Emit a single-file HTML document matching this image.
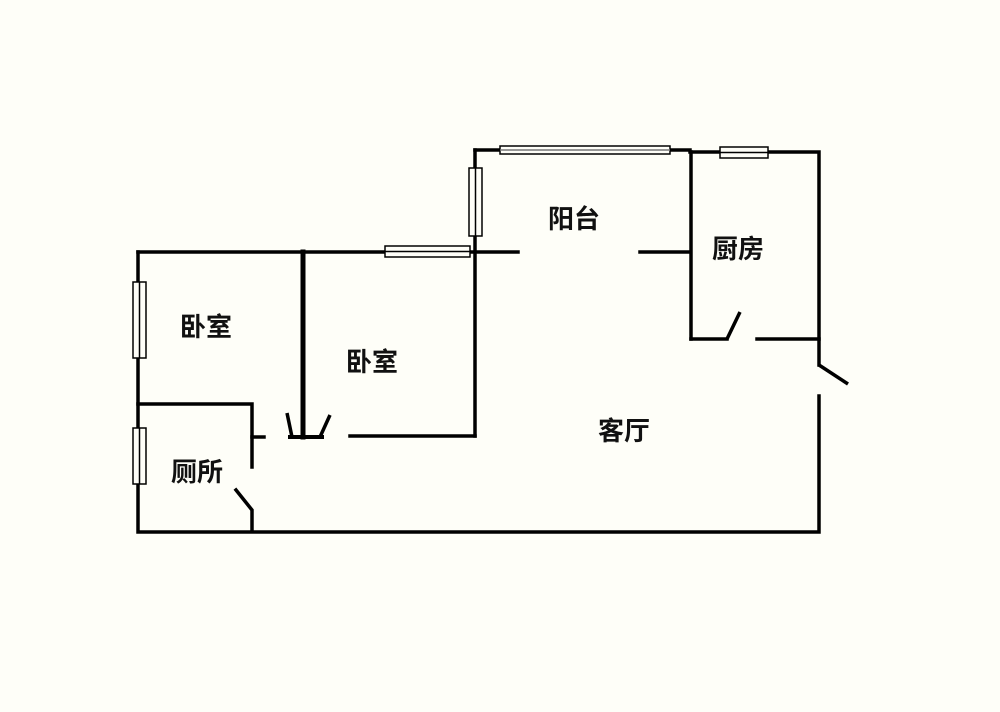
<!DOCTYPE html>
<html><head><meta charset="utf-8"><style>
html,body{margin:0;padding:0;background:#fefef8;}
svg{display:block}
text{font-family:"Liberation Sans","Noto Sans CJK SC",sans-serif;font-size:26px;font-weight:bold;fill:#111;text-anchor:middle;dominant-baseline:central}
</style></head><body>
<svg width="1000" height="712" viewBox="0 0 1000 712">
<rect width="1000" height="712" fill="#fefef8"/>
<g stroke="#000" stroke-width="3.5" fill="none" stroke-linecap="square">
<polyline points="138,252 138,532 819,532 819,396"/>
<polyline points="819,365 819,152 690,152"/>
<line x1="475" y1="150" x2="690" y2="150"/>
<line x1="475" y1="150" x2="475" y2="436"/>
<line x1="138" y1="252" x2="518" y2="252"/>
<line x1="640" y1="252" x2="690" y2="252"/>
<line x1="691" y1="152" x2="691" y2="339"/>
<line x1="691" y1="339" x2="727" y2="339"/>
<line x1="727" y1="339" x2="740" y2="312" stroke-linecap="butt"/>
<line x1="757" y1="339" x2="819" y2="339"/>
<line x1="819" y1="365" x2="848" y2="384" stroke-linecap="butt"/>
<line x1="303" y1="252" x2="303" y2="437" stroke-width="5"/>
<line x1="350" y1="436" x2="475" y2="436"/>
<line x1="290" y1="437" x2="322" y2="437" stroke-width="4"/>
<line x1="287" y1="413" x2="292" y2="437" stroke-linecap="butt"/>
<line x1="320" y1="437" x2="330" y2="415" stroke-linecap="butt"/>
<polyline points="138,404 252,404 252,467"/>
<line x1="252" y1="437" x2="264" y2="437"/>
<polyline points="252,530 252,510 236,490"/>
</g>
<g fill="#fefef8" stroke="#000" stroke-width="1.5">
<rect x="133" y="282" width="13" height="76"/>
<line x1="139.5" y1="282" x2="139.5" y2="358"/>
<rect x="133" y="428" width="13" height="56"/>
<line x1="139.5" y1="428" x2="139.5" y2="484"/>
<rect x="385" y="246" width="85" height="11"/>
<line x1="385" y1="251.5" x2="470" y2="251.5"/>
<rect x="469" y="168" width="13" height="68"/>
<line x1="475.5" y1="168" x2="475.5" y2="236"/>
<rect x="500" y="146" width="170" height="8"/>
<line x1="500" y1="150" x2="670" y2="150" stroke="#777"/>
<rect x="720" y="147" width="48" height="11"/>
<line x1="720" y1="152.5" x2="768" y2="152.5"/>
</g>
<text x="206" y="327">卧室</text>
<text x="372" y="362">卧室</text>
<text x="197" y="472">厕所</text>
<text x="574" y="219">阳台</text>
<text x="738" y="249">厨房</text>
<text x="624" y="431">客厅</text>
</svg>
</body></html>
